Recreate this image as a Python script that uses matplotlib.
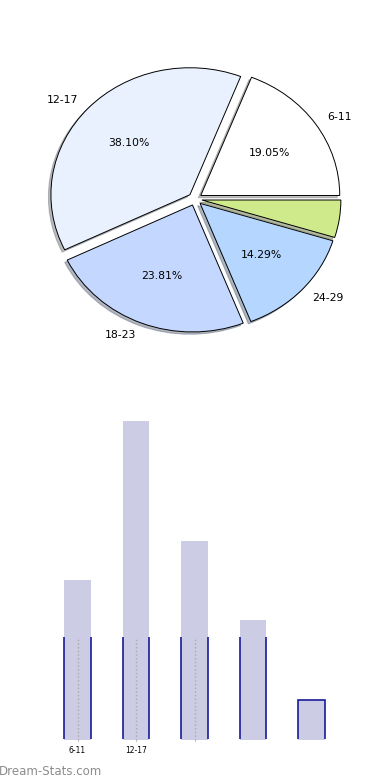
import matplotlib.pyplot as plt
from matplotlib.patches import Rectangle

# data
categories = ['6-11', '12-17', '18-23', '24-29', '30+']
counts = [4, 8, 5, 3, 1]
pie_labels = ['6-11', '12-17', '18-23', '24-29', '']
pie_colors = ['#ffffff', '#e9f1ff', '#c4d8ff', '#b4d6ff', '#cfea8a']
tick_labels = ['6-11', '12-17', '']

fig = plt.figure(figsize=(3.9, 7.8), dpi=100)

#pie
ax1 = fig.add_axes([0.0545, 0.5413, 0.891, 0.407])
wedges, texts, autotexts = ax1.pie(
    counts, labels=pie_labels, colors=pie_colors,
    explode=[0.05] * len(counts),
    shadow={'ox': -0.013, 'oy': -0.013, 'shade': 0.5}, startangle=0,
    autopct=lambda p: '%.2f%%' % p if p > 5 else '',
    wedgeprops=dict(edgecolor='black', linewidth=0.7),
    textprops=dict(fontsize=7.8))
ax1.set_aspect('auto')
ax1.set_xlim(-1.25, 1.25)
ax1.set_ylim(-1.25, 1.25)

#bars
ax2 = fig.add_axes([0.0, 0.0513, 1.0, 0.409])
x = range(len(counts))
ax2.bar(x, counts, width=0.46, color='#ccccE4', zorder=1)
edges = ax2.bar(x, counts, width=0.46, fill=False, edgecolor='#1a1a99',
                linewidth=1.2, zorder=3)
clip_top = 2.58
clip = Rectangle((-2, 0.03), 10, clip_top - 0.03, transform=ax2.transData)
for e in edges:
    e.set_clip_path(clip)
for i in range(len(tick_labels)):
    ax2.plot([i, i], [0, clip_top], color='#aaaaaa', linestyle=':',
             linewidth=1, zorder=2)
ax2.set_xlim(-1.325, 5.342)
ax2.set_ylim(0, 8)
ax2.set_xticks(range(len(tick_labels)))
ax2.set_xticklabels(tick_labels, fontsize=5.5)
ax2.tick_params(axis='x', length=1, color='#888888', pad=3)
ax2.set_yticks([])
for s in ax2.spines.values():
    s.set_visible(False)

fig.text(-0.002, 0.007, 'Dream-Stats.com', fontsize=8.5, color='#8c8c8c')

plt.savefig('out.png', dpi=100)
